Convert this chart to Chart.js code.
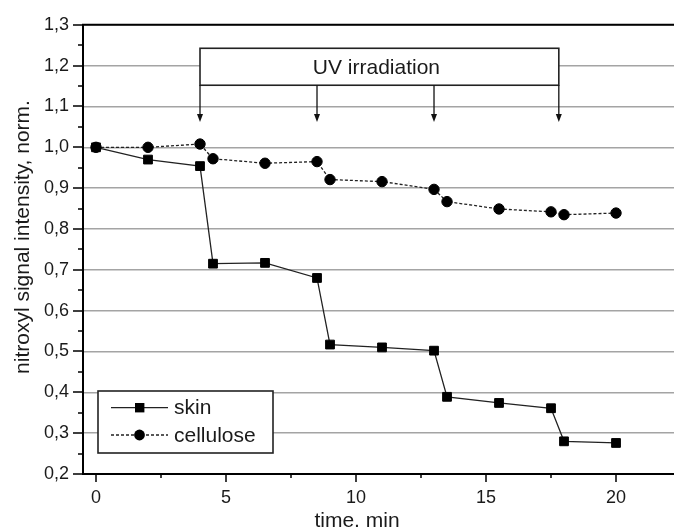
<!DOCTYPE html>
<html><head><meta charset="utf-8">
<script src="https://cdn.jsdelivr.net/npm/chart.js@4/dist/chart.umd.min.js"></script>
<style>html,body{margin:0;padding:0;background:#fff}#wrap{width:674px;height:527px;position:relative}</style>
</head><body><div id="wrap"><canvas id="c" width="674" height="527"></canvas></div>
<script>
// ---- data ----
const timeSkin = [0, 2, 4, 4.5, 6.5, 8.5, 9, 11, 13, 13.5, 15.5, 17.5, 18, 20];
const skinValues = [1.0, 0.970, 0.954, 0.715, 0.717, 0.680, 0.517, 0.510, 0.502, 0.389, 0.374, 0.361, 0.280, 0.276];
const timeCellulose = [0, 2, 4, 4.5, 6.5, 8.5, 9, 11, 13, 13.5, 15.5, 17.5, 18, 20];
const celluloseValues = [1.0, 1.0, 1.008, 0.972, 0.961, 0.965, 0.921, 0.916, 0.897, 0.867, 0.849, 0.842, 0.835, 0.839];
const seriesNames = ['skin', 'cellulose'];
const xTicks = [0, 5, 10, 15, 20];
const xMinorTicks = [2.5, 7.5, 12.5, 17.5];
const yTicks = [0.2, 0.3, 0.4, 0.5, 0.6, 0.7, 0.8, 0.9, 1.0, 1.1, 1.2, 1.3];
const yMinorTicks = [0.25, 0.35, 0.45, 0.55, 0.65, 0.75, 0.85, 0.95, 1.05, 1.15, 1.25];
const uvLabel = 'UV irradiation';
const uvArrowTimes = [4, 8.5, 13, 17.8];
const uvBox = {xFrom: 4, xTo: 17.8, yTop: 1.2425, yBottom: 1.152, yArrowTip: 1.062};
const xTitle = 'time, min';
const yTitle = 'nitroxyl signal intensity, norm.';

const FONT = '"Liberation Sans", Arial, Helvetica, sans-serif';
const INK = '#1a1a1a';

const toPts = (xs, ys) => xs.map((x, i) => ({x, y: ys[i]}));

const decorPlugin = {
  id: 'decor',
  afterDraw(chart) {
    const {ctx, chartArea: ca, scales: {x, y}} = chart;
    ctx.save();
    // top border
    ctx.strokeStyle = '#000';
    ctx.lineWidth = 2;
    ctx.beginPath(); ctx.moveTo(ca.left - 1, ca.top); ctx.lineTo(ca.right, ca.top); ctx.stroke();
    // tick marks
    ctx.lineWidth = 1.5;
    ctx.beginPath();
    yTicks.forEach(v => { const p = Math.round(y.getPixelForValue(v)); ctx.moveTo(ca.left, p); ctx.lineTo(ca.left - 10, p); });
    yMinorTicks.forEach(v => { const p = Math.round(y.getPixelForValue(v)); ctx.moveTo(ca.left, p); ctx.lineTo(ca.left - 5, p); });
    xTicks.forEach(v => { const p = Math.round(x.getPixelForValue(v)); ctx.moveTo(p, ca.bottom); ctx.lineTo(p, ca.bottom + 8); });
    xMinorTicks.forEach(v => { const p = Math.round(x.getPixelForValue(v)); ctx.moveTo(p, ca.bottom); ctx.lineTo(p, ca.bottom + 4); });
    ctx.stroke();

    // axis titles
    ctx.fillStyle = INK;
    ctx.font = '21px ' + FONT;
    ctx.textAlign = 'center';
    ctx.textBaseline = 'alphabetic';
    ctx.fillText(xTitle, 357, 527);
    ctx.save();
    ctx.translate(29, 237);
    ctx.rotate(-Math.PI / 2);
    ctx.fillText(yTitle, 0, 0);
    ctx.restore();

    // UV irradiation box
    const bx0 = x.getPixelForValue(uvBox.xFrom), bx1 = x.getPixelForValue(uvBox.xTo);
    const by0 = y.getPixelForValue(uvBox.yTop), by1 = y.getPixelForValue(uvBox.yBottom);
    const tipY = y.getPixelForValue(uvBox.yArrowTip);
    ctx.fillStyle = '#fff';
    ctx.fillRect(bx0, by0, bx1 - bx0, by1 - by0);
    ctx.strokeStyle = '#222';
    ctx.lineWidth = 1.6;
    ctx.strokeRect(bx0, by0, bx1 - bx0, by1 - by0);
    ctx.fillStyle = INK;
    ctx.font = '21px ' + FONT;
    ctx.textAlign = 'center';
    ctx.textBaseline = 'middle';
    ctx.fillText(uvLabel, (bx0 + bx1) / 2 - 3, (by0 + by1) / 2 + 1);
    // arrows
    ctx.lineWidth = 1.3;
    ctx.strokeStyle = '#111';
    ctx.fillStyle = '#111';
    uvArrowTimes.forEach(t => {
      const ax = x.getPixelForValue(t);
      ctx.beginPath(); ctx.moveTo(ax, by1); ctx.lineTo(ax, tipY - 5); ctx.stroke();
      ctx.beginPath(); ctx.moveTo(ax - 3, tipY - 8); ctx.lineTo(ax + 3, tipY - 8); ctx.lineTo(ax, tipY); ctx.closePath(); ctx.fill();
    });

    // legend
    const lx0 = 98, ly0 = 391, lx1 = 273, ly1 = 453;
    ctx.fillStyle = '#fff';
    ctx.fillRect(lx0, ly0, lx1 - lx0, ly1 - ly0);
    ctx.strokeStyle = '#222';
    ctx.lineWidth = 1.6;
    ctx.strokeRect(lx0, ly0, lx1 - lx0, ly1 - ly0);
    const rows = [407.7, 435];
    chart.data.datasets.forEach((ds, i) => {
      const ry = rows[i];
      ctx.strokeStyle = ds.borderColor;
      ctx.lineWidth = ds.borderWidth;
      ctx.setLineDash(ds.borderDash || []);
      ctx.beginPath(); ctx.moveTo(111, ry); ctx.lineTo(168, ry); ctx.stroke();
      ctx.setLineDash([]);
      ctx.fillStyle = '#000';
      if (ds.pointStyle === 'rect') {
        ctx.fillRect(135, ry - 4.7, 9.4, 9.4);
      } else {
        ctx.beginPath(); ctx.arc(139.5, ry, 5.4, 0, Math.PI * 2); ctx.fill();
      }
      ctx.fillStyle = INK;
      ctx.font = '21px ' + FONT;
      ctx.textAlign = 'left';
      ctx.textBaseline = 'middle';
      ctx.fillText(ds.label, 174, ry + 1);
    });
    ctx.restore();
  }
};

new Chart(document.getElementById('c'), {
  type: 'scatter',
  data: {
    datasets: [
      {
        label: seriesNames[0],
        data: toPts(timeSkin, skinValues),
        showLine: true,
        borderColor: '#222',
        borderWidth: 1.3,
        pointStyle: 'rect',
        pointRadius: 6.2,
        pointBackgroundColor: '#000',
        pointBorderColor: '#000',
        pointBorderWidth: 1
      },
      {
        label: seriesNames[1],
        data: toPts(timeCellulose, celluloseValues),
        showLine: true,
        borderColor: '#222',
        borderWidth: 1.3,
        borderDash: [3, 2],
        pointStyle: 'circle',
        pointRadius: 5.2,
        pointBackgroundColor: '#000',
        pointBorderColor: '#000',
        pointBorderWidth: 1
      }
    ]
  },
  options: {
    responsive: false,
    animation: false,
    devicePixelRatio: 1,
    layout: {autoPadding: false, padding: {left: 0, right: 0, top: 21, bottom: 0}},
    plugins: {legend: {display: false}, tooltip: {enabled: false}},
    scales: {
      x: {
        type: 'linear',
        min: -0.5,
        max: 22.23,
        afterBuildTicks: s => { s.ticks = xTicks.map(v => ({value: v})); },
        afterFit: s => { s.height = 53; s.paddingRight = 0; s.paddingLeft = 0; },
        grid: {display: false, drawTicks: false},
        border: {display: true, color: '#000', width: 2},
        ticks: {padding: 13, color: INK, font: {family: FONT, size: 18}, maxRotation: 0},
        title: {display: false, text: xTitle}
      },
      y: {
        type: 'linear',
        min: 0.2,
        max: 1.3,
        afterBuildTicks: s => { s.ticks = yTicks.map(v => ({value: v})); },
        afterFit: s => { s.width = 83; },
        grid: {display: true, drawTicks: false, color: '#a4a4a4', lineWidth: 1.5},
        border: {display: true, color: '#000', width: 2},
        ticks: {padding: 14, color: INK, font: {family: FONT, size: 18},
          callback: v => Number(v).toFixed(1).replace('.', ',')},
        title: {display: false, text: yTitle}
      }
    }
  },
  plugins: [decorPlugin]
});
</script>
</body></html>
